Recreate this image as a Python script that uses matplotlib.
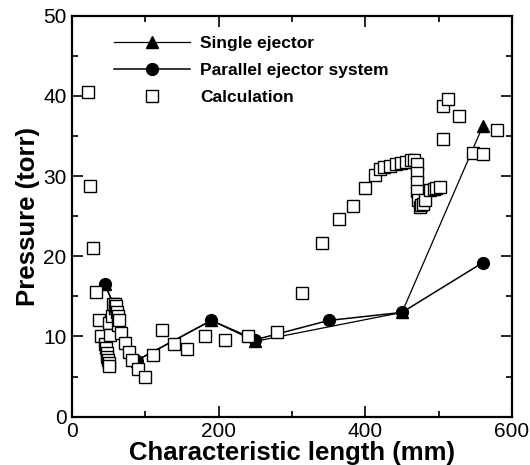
import numpy as np
import matplotlib.pyplot as plt
from matplotlib.ticker import MultipleLocator

# single ejector measurements
single_x = [45, 88, 190, 250, 450, 560]
single_y = [16.5, 7.0, 12.0, 9.4, 13.0, 36.2]

# parallel ejector system measurements
parallel_x = [45, 88, 190, 250, 350, 450, 560]
parallel_y = [16.5, 7.0, 12.0, 9.6, 12.0, 13.0, 19.2]

# calculation points
calc_x = [22, 25, 28.5, 33, 37, 39,
          45, 46, 47, 48, 49, 50, 50,
          51, 52, 55, 56, 58, 59, 60, 61, 62, 63, 64,
          67, 72, 77, 82, 90, 100, 110, 123, 139, 157, 181, 208, 240, 280,
          314, 341, 364, 383, 399, 413, 420, 425, 433, 442, 449, 456, 462, 467,
          470, 471, 471, 471, 472, 474, 476, 478, 482, 488, 493, 497, 502,
          506, 506, 513, 528, 547, 560, 580]
calc_y = [40.5, 28.8, 21.0, 15.5, 12.0, 10.0,
          9.0, 8.5, 8.0, 7.5, 7.1, 6.7, 6.3,
          11.7, 10.2, 12.5, 14.0, 14.0, 13.5, 13.8, 13.0, 12.5, 11.4, 12.0,
          10.4, 9.2, 8.1, 7.1, 6.0, 4.9, 7.7, 10.8, 9.0, 8.4, 10.0, 9.6, 10.0, 10.5,
          15.4, 21.7, 24.7, 26.3, 28.5, 30.2, 30.9, 31.2, 31.3, 31.5, 31.6, 31.8, 32.0, 32.0,
          31.5, 30.4, 29.3, 28.1, 27.0, 26.2, 26.4, 26.5, 27.0, 28.3, 28.4, 28.5, 28.6,
          34.6, 38.8, 39.6, 37.5, 32.9, 32.7, 35.8]

plt.rcParams['font.family'] = ['Liberation Sans', 'DejaVu Sans']

fig = plt.figure(figsize=(5.3, 4.65), dpi=100)
ax = fig.add_axes([0.136, 0.104, 0.830, 0.862])

ax.plot(single_x, single_y, color='black', lw=0.9, marker='^', ms=8,
        label='Single ejector')
ax.plot(parallel_x, parallel_y, color='black', lw=1.1, marker='o', ms=8.5,
        label='Parallel ejector system')
ax.plot(calc_x, calc_y, ls='none', marker='s', ms=8, mfc='white', mec='black',
        mew=1.0, label='Calculation')

ax.set_xlim(0, 600)
ax.set_ylim(0, 50)
ax.xaxis.set_major_locator(MultipleLocator(200))
ax.xaxis.set_minor_locator(MultipleLocator(100))
ax.yaxis.set_major_locator(MultipleLocator(10))
ax.yaxis.set_minor_locator(MultipleLocator(5))
ax.tick_params(which='both', direction='in', top=True, right=True,
               labelsize=15, width=1.2, pad=4)
ax.tick_params(which='major', length=8)
ax.tick_params(which='minor', length=4)
for s in ax.spines.values():
    s.set_linewidth(1.6)

ax.set_xlabel('Characteristic length (mm)', fontsize=18.5, fontweight='bold',
              labelpad=0)
ax.set_ylabel('Pressure (torr)', fontsize=18.5, fontweight='bold', labelpad=2)

leg = ax.legend(loc='upper left', bbox_to_anchor=(0.06, 0.99), frameon=False,
                numpoints=1, handlelength=4.4, handletextpad=0.55,
                labelspacing=0.7, prop={'weight': 'bold', 'size': 12.5})

fig.savefig('out.png', dpi=100)
